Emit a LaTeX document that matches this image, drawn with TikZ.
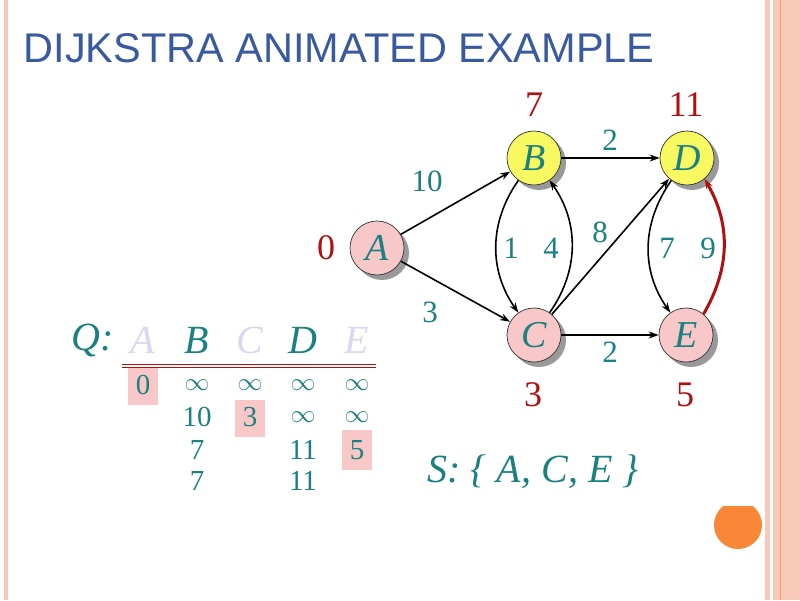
\documentclass[tikz,border=0pt]{standalone}
\usepackage{fontspec}
\setmainfont{Liberation Serif}
\newfontfamily\titlefont{Liberation Sans}
\usetikzlibrary{arrows.meta,shadows}
\definecolor{teal2}{HTML}{1A8080}
\definecolor{red2}{HTML}{B01010}
\definecolor{pinkn}{HTML}{F8C8C8}
\definecolor{yel}{HTML}{F8F860}
\definecolor{lav}{HTML}{D8D8F0}
\definecolor{band}{HTML}{F8C8B8}
\definecolor{tit}{HTML}{3A5AA0}
\definecolor{orng}{HTML}{F88838}
\begin{document}
\begin{tikzpicture}[x=1pt,y=-1pt,
  vert/.style={circle,draw=black!80,line width=0.7pt,minimum size=54pt,inner sep=0pt,
    font=\fontsize{38}{38}\selectfont\itshape,text=teal2,
    drop shadow={shadow xshift=5pt,shadow yshift=-5pt,fill=gray!80,opacity=1}},
  edge/.style={-{Stealth[length=10pt,width=7pt]},line width=1.6pt},
  wl/.style={text=teal2,font=\fontsize{31}{31}\selectfont},
  dl/.style={text=red2,font=\fontsize{36}{36}\selectfont},
  hd/.style={font=\fontsize{40}{40}\selectfont\itshape},
  cell/.style={text=teal2,font=\fontsize{29}{29}\selectfont},
  hl/.style={fill=pinkn,draw=none}]
\useasboundingbox (0,0) rectangle (800,600);
\fill[white] (0,0) rectangle (800,600);
% borders
\fill[band] (4,0) rectangle (8,600);
\fill[band] (765,0) rectangle (770,600);
\fill[band] (773,0) rectangle (800,600);
\draw[orng!80,line width=0.8pt] (780,0) -- (780,600);
\begin{scope}
\clip (700,506) rectangle (770,560);
\fill[orng] (738,525) circle (24);
\end{scope}
\node[anchor=base west,text=tit,font=\titlefont\fontsize{41.5}{41.5}\selectfont] (title) at (20,62) {DIJKSTRA ANIMATED EXAMPLE};
% graph
\node[vert,fill=pinkn] (A) at (377,248) {A};
\node[vert,fill=yel] (B) at (534,158) {B};
\node[vert,fill=yel] (D) at (687,158) {D};
\node[vert,fill=pinkn] (C) at (534,335) {C};
\node[vert,fill=pinkn] (E) at (686,335) {E};
\draw[edge] (A) -- (B);
\draw[edge] (A) -- (C);
\draw[edge] (B) -- (D);
\draw[edge] (C) -- (E);
\draw[edge] (C) -- (D);
\draw[edge] (B.235) to[out=235,in=125] (C.125);
\draw[edge] (C.55) to[out=55,in=-55] (B.-55);
\draw[edge] (D.235) to[out=235,in=125] (E.125);
\draw[edge,red2,line width=3pt] (E.50) to[out=60,in=-60] (D.-50);
\node[wl] (w1) at (427,181) {10};
\node[wl] (w2) at (430,312) {3};
\node[wl] (w3) at (610,140) {2};
\node[wl] (w4) at (610,352) {2};
\node[wl] (w5) at (600,232) {8};
\node[wl] (w6) at (511,248) {1};
\node[wl] (w7) at (551,248) {4};
\node[wl] (w8) at (667,248) {7};
\node[wl] (w9) at (708,248) {9};
\node[dl] (dA) at (326,248) {0};
\node[dl] (dB) at (534,105) {7};
\node[dl] (dD) at (686,105) {11};
\node[dl] (dC) at (533,395) {3};
\node[dl] (dE) at (685,395) {5};
% table
\fill[hl] (128,368) rectangle (158,405);
\fill[hl] (235,400) rectangle (265,437);
\fill[hl] (342,430) rectangle (372,470);
\node[hd,text=teal2] (Q) at (93,340) {Q:};
\node[hd,text=lav] (hA) at (143,340) {A};
\node[hd,text=teal2] (hB) at (197,340) {B};
\node[hd,text=lav] (hC) at (250,340) {C};
\node[hd,text=teal2] (hD) at (303,340) {D};
\node[hd,text=lav] (hE) at (357,340) {E};
\draw[red2,line width=1pt] (122,364) -- (376,364);
\draw[red2,line width=1pt] (122,367.5) -- (376,367.5);
\node[cell] (r1a) at (143,385) {0};
\node[cell] (r1b) at (197,385) {$\infty$};
\node[cell] (r1c) at (250,385) {$\infty$};
\node[cell] (r1d) at (303,385) {$\infty$};
\node[cell] (r1e) at (357,385) {$\infty$};
\node[cell] (r2b) at (197,417) {10};
\node[cell] (r2c) at (250,417) {3};
\node[cell] (r2d) at (303,417) {$\infty$};
\node[cell] (r2e) at (357,417) {$\infty$};
\node[cell] (r3b) at (197,450) {7};
\node[cell] (r3d) at (303,450) {11};
\node[cell] (r3e) at (357,450) {5};
\node[cell] (r4b) at (197,481) {7};
\node[cell] (r4d) at (303,481) {11};
\node[hd,text=teal2] (S) at (533,472) {S: \{ A, C, E \}};
\end{tikzpicture}
\end{document}
